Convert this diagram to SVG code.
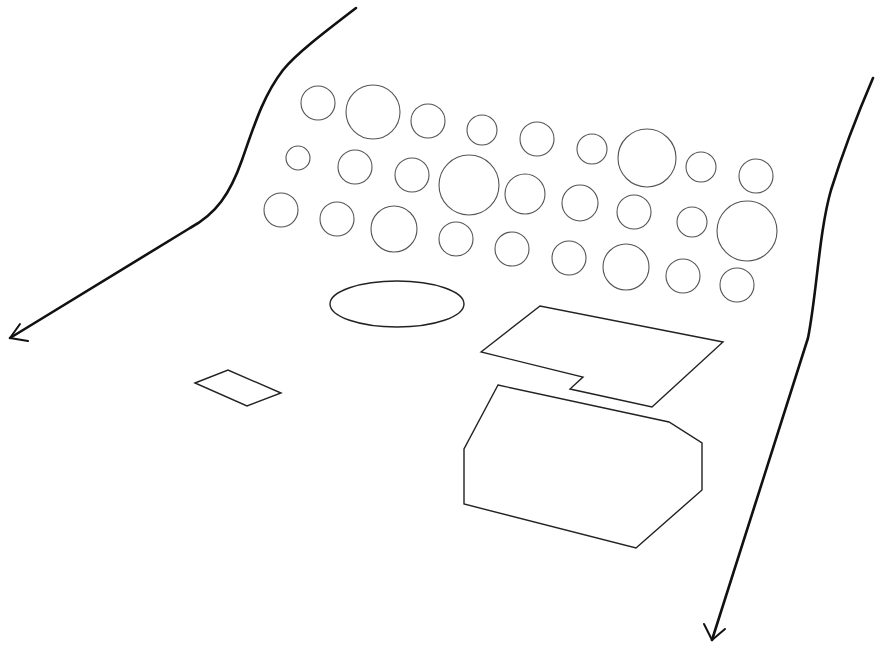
<svg xmlns="http://www.w3.org/2000/svg" width="875" height="646" viewBox="0 0 875 646">
<style>
.c{fill:none;stroke:#555;stroke-width:1.1}
.s{fill:none;stroke:#222;stroke-width:1.4;stroke-linejoin:miter}
.p{fill:none;stroke:#111;stroke-width:2.6;stroke-linecap:round;stroke-linejoin:round}
.a{fill:none;stroke:#111;stroke-width:2;stroke-linecap:round;stroke-linejoin:round}
</style>
<rect width="875" height="646" fill="#fff"/>
<g id="paths">
<path class="p" d="M356,8 C322,34 296,54 283,70 C263,96 254,126 242,160 C230,194 216,214 190,228 L10,338"/>
<polyline class="a" points="20,324 10,338 28,341"/>
<path class="p" d="M873,78 C855,120 841,158 831,190 C819,232 817,292 808,338 L712,640"/>
<polyline class="a" points="704,624 712,640 725,629"/>
</g>
<g id="circles">
<circle class="c" cx="318" cy="103" r="17"/>
<circle class="c" cx="373" cy="112" r="27"/>
<circle class="c" cx="428" cy="121" r="17"/>
<circle class="c" cx="482" cy="130" r="15"/>
<circle class="c" cx="537" cy="139" r="17"/>
<circle class="c" cx="592" cy="149" r="15"/>
<circle class="c" cx="647" cy="158" r="29"/>
<circle class="c" cx="701" cy="167" r="15"/>
<circle class="c" cx="756" cy="176" r="17"/>
<circle class="c" cx="298" cy="158" r="12"/>
<circle class="c" cx="355" cy="167" r="17"/>
<circle class="c" cx="412" cy="175" r="17"/>
<circle class="c" cx="469" cy="185" r="30"/>
<circle class="c" cx="525" cy="194" r="20"/>
<circle class="c" cx="580" cy="203" r="18"/>
<circle class="c" cx="634" cy="212" r="17"/>
<circle class="c" cx="692" cy="222" r="15"/>
<circle class="c" cx="747" cy="231" r="30"/>
<circle class="c" cx="281" cy="210" r="17"/>
<circle class="c" cx="337" cy="219" r="17"/>
<circle class="c" cx="394" cy="229" r="23"/>
<circle class="c" cx="456" cy="239" r="17"/>
<circle class="c" cx="512" cy="249" r="17"/>
<circle class="c" cx="569" cy="258" r="17"/>
<circle class="c" cx="626" cy="267" r="23"/>
<circle class="c" cx="683" cy="276" r="17"/>
<circle class="c" cx="737" cy="285" r="17"/>
</g>
<g id="ellipse">
<ellipse class="s" cx="397" cy="304" rx="67" ry="23"/>
</g>
<g id="small-quad">
<polygon class="s" points="195,383 228,370 281,393 247,406"/>
</g>
<g id="notched-shape">
<polygon class="s" points="481,352 540,306 723,342 652,407 570,389 583,377"/>
</g>
<g id="octagon-shape">
<polygon class="s" points="498,385 669,422 702,443 702,490 636,548 464,504 464,449"/>
</g>
</svg>
